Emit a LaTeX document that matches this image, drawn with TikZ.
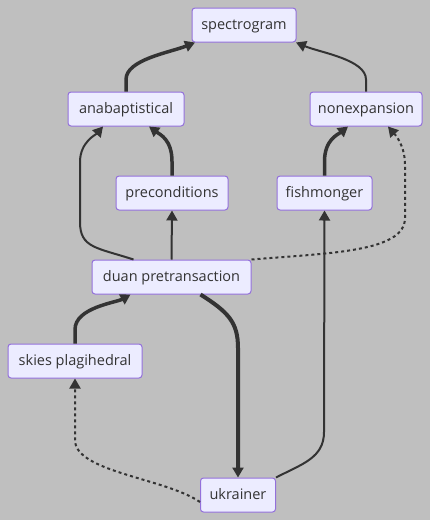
\documentclass[tikz,border=0pt]{standalone}
\usepackage{fontspec}
\setmainfont{Open Sans}
\usetikzlibrary{arrows.meta}
\definecolor{bg}{RGB}{191,191,191}
\definecolor{nodefill}{HTML}{ECECFF}
\definecolor{nodeline}{HTML}{9370DB}
\definecolor{ink}{HTML}{333333}
\tikzset{
  box/.style={draw=nodeline, fill=nodefill, line width=1pt, rounded corners=3pt,
    minimum height=34pt, inner xsep=0pt, text height=11pt, text depth=2pt,
    font=\fontsize{14.5pt}{16pt}\selectfont, text=ink},
  edge/.style={draw=ink, line width=2pt, -{Triangle[length=10pt,width=11pt]}},
  thick edge/.style={edge, line width=3.5pt},
  thicker edge/.style={edge, line width=4pt},
  dot edge/.style={edge, dash pattern=on 3pt off 3pt}
}
\begin{document}
\begin{tikzpicture}[x=1pt,y=-1pt]
\fill[bg] (0,0) rectangle (430,520);
\useasboundingbox (0,0) rectangle (430,520);
\node[box, minimum width=104pt] (spec) at (244,25) {spectrogram};
\node[box, minimum width=116pt] (ana) at (126,109) {anabaptistical};
\node[box, minimum width=112pt] (non) at (366,109) {nonexpansion};
\node[box, minimum width=112pt] (pre) at (172,193) {preconditions};
\node[box, minimum width=95pt] (fish) at (324.5,193) {fishmonger};
\node[box, minimum width=159pt] (duan) at (171.5,277) {duan pretransaction};
\node[box, minimum width=134pt] (skies) at (75,361) {skies plagihedral};
\node[box, minimum width=75pt] (ukr) at (238,495) {ukrainer};

\draw[thick edge] (ana.north) -- ([yshift=12pt]ana.north) .. controls ([yshift=32pt]ana.north) and ([xshift=-74pt,yshift=-10pt]spec.south) .. ([xshift=-49pt]spec.south);
\draw[edge] (non.north) -- ([yshift=12pt]non.north) .. controls ([yshift=32pt]non.north) and ([xshift=76pt,yshift=-10pt]spec.south) .. ([xshift=52pt]spec.south);
\draw[thick edge] (pre.north) -- ([yshift=14pt]pre.north) .. controls ([yshift=36pt]pre.north) and ([xshift=34pt,yshift=-8pt]ana.south) .. ([xshift=23pt]ana.south);
\draw[edge] ([xshift=-38pt]duan.north) .. controls ([xshift=-75pt,yshift=12pt]duan.north) and (80,248) .. (80,222) -- (80,162) .. controls (80,142) and ([xshift=-30pt,yshift=-8pt]ana.south) .. ([xshift=-23pt]ana.south);
\draw[edge] (duan.north) -- (pre.south);
\draw[thick edge] (fish.north) -- ([yshift=14pt]fish.north) .. controls ([yshift=36pt]fish.north) and ([xshift=-28pt,yshift=-8pt]non.south) .. ([xshift=-18pt]non.south);
\draw[dot edge] (duan.north east) .. controls (330,253) and (405,252) .. (405,218) -- (405,165) .. controls (405,145) and ([xshift=29pt,yshift=-8pt]non.south) .. ([xshift=22pt]non.south);
\draw[edge] (ukr.north east) .. controls (302,464) and (324,458) .. (324,432) -- (fish.south);
\draw[thick edge] (skies.north) -- ([yshift=14pt]skies.north) .. controls ([yshift=36pt]skies.north) and ([xshift=-55pt,yshift=-8pt]duan.south) .. ([xshift=-41pt]duan.south);
\draw[thicker edge] ([xshift=29pt]duan.south) .. controls (228,312) and (238,322) .. (238,348) -- (ukr.north);
\draw[dot edge] ([yshift=-7pt]ukr.west) .. controls (165,478) and (75,472) .. (75,440) -- (skies.south);
\end{tikzpicture}
\end{document}
